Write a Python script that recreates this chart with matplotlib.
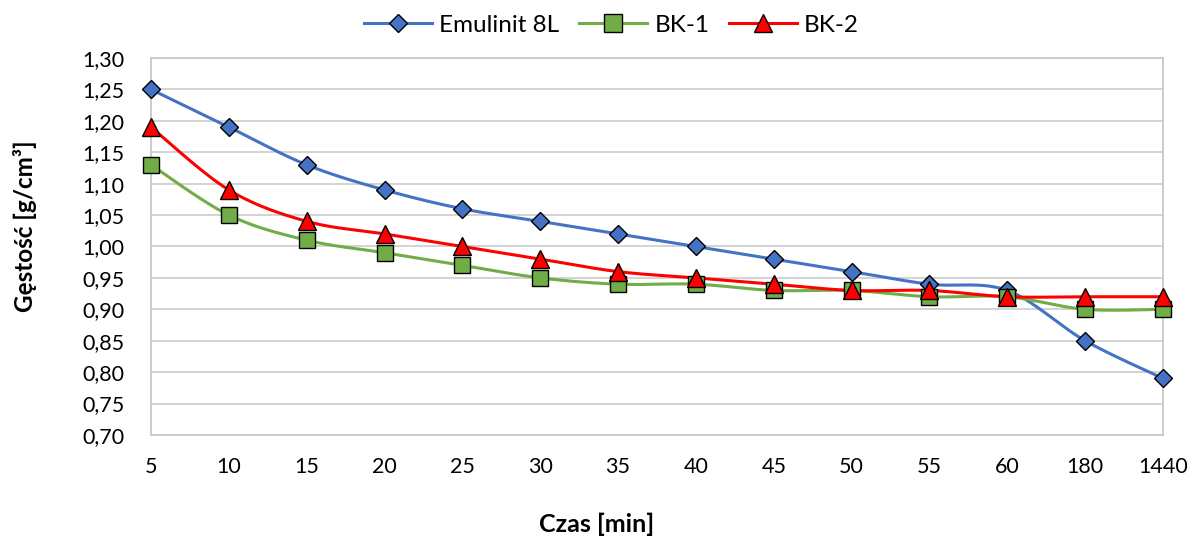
import numpy as np
import matplotlib
matplotlib.use("Agg")
import matplotlib.pyplot as plt

categories = ["5", "10", "15", "20", "25", "30", "35", "40", "45", "50", "55", "60", "180", "1440"]
emulinit = [1.25, 1.19, 1.13, 1.09, 1.06, 1.04, 1.02, 1.00, 0.98, 0.96, 0.94, 0.93, 0.85, 0.79]
bk1 = [1.13, 1.05, 1.01, 0.99, 0.97, 0.95, 0.94, 0.94, 0.93, 0.93, 0.92, 0.92, 0.90, 0.90]
bk2 = [1.19, 1.09, 1.04, 1.02, 1.00, 0.98, 0.96, 0.95, 0.94, 0.93, 0.93, 0.92, 0.92, 0.92]
yticks = np.arange(0.70, 1.3001, 0.05)

plt.rcParams['font.family'] = ['Lato', 'DejaVu Sans']


def smooth(x, y, n=30):
    x = np.asarray(x, float)
    y = np.asarray(y, float)
    px = np.concatenate([[x[0]], x, [x[-1]]])
    py = np.concatenate([[y[0]], y, [y[-1]]])
    xs, ys = [], []
    t = np.linspace(0, 1, n)
    for i in range(1, len(px) - 2):
        p0 = np.array([px[i], py[i]])
        p3 = np.array([px[i + 1], py[i + 1]])
        p1 = p0 + (np.array([px[i + 1], py[i + 1]]) - np.array([px[i - 1], py[i - 1]])) / 6
        p2 = p3 - (np.array([px[i + 2], py[i + 2]]) - np.array([px[i], py[i]])) / 6
        b = ((1 - t) ** 3)[:, None] * p0 + (3 * (1 - t) ** 2 * t)[:, None] * p1 + \
            (3 * (1 - t) * t ** 2)[:, None] * p2 + (t ** 3)[:, None] * p3
        xs.extend(b[:, 0])
        ys.extend(b[:, 1])
    return np.array(xs), np.array(ys)


fig = plt.figure(figsize=(11.9, 5.39), dpi=100)
ax = fig.add_axes([0.1269, 0.193, 0.8504, 0.6994])

x = np.arange(len(categories))
series = [
    ("Emulinit 8L", emulinit, "#4472C4", "D", 9),
    ("BK-1", bk1, "#70AD47", "s", 12),
    ("BK-2", bk2, "#FF0000", "^", 12.5),
]
for name, vals, col, mk, ms in series:
    sx, sy = smooth(x, vals)
    ax.plot(sx, sy, color=col, lw=2.2, zorder=3, clip_on=False)
    ax.plot(x, vals, linestyle='none', marker=mk, markersize=ms, markerfacecolor=col,
            markeredgecolor='black', markeredgewidth=1.0, zorder=4, clip_on=False)
    ax.plot([], [], color=col, lw=2.2, marker=mk, markersize=ms * 1.05, markerfacecolor=col,
            markeredgecolor='black', markeredgewidth=1.0, label=name)

ax.set_xlim(0, len(categories) - 1)
ax.set_ylim(0.70, 1.30)
ax.set_yticks(yticks)
ax.set_yticklabels([f"{v:.2f}".replace('.', ',') for v in yticks])
ax.set_xticks(x)
ax.set_xticklabels(categories)
ax.tick_params(axis='both', length=0, labelsize=15.5)
ax.tick_params(axis='x', pad=16)
ax.tick_params(axis='y', pad=19)
ax.grid(axis='y', color='#D0D0D0', lw=1.3, zorder=0)
for s in ax.spines.values():
    s.set_color('#C8C8C8')
    s.set_linewidth(1.3)
ax.set_axisbelow(True)

fig.text(0.021, 0.58, "Gęstość [g/cm³]", fontsize=17.5, fontweight='bold', rotation=90,
         ha='center', va='center')
fig.text(0.501, 0.027, "Czas [min]", fontsize=18, fontweight='bold', ha='center', va='center')

fig.legend(loc='center', bbox_to_anchor=(0.514, 0.953), ncol=3, frameon=False, fontsize=17.5,
           handlelength=2.8, columnspacing=0.8, handletextpad=0.3)

fig.savefig("out.png", dpi=100)
